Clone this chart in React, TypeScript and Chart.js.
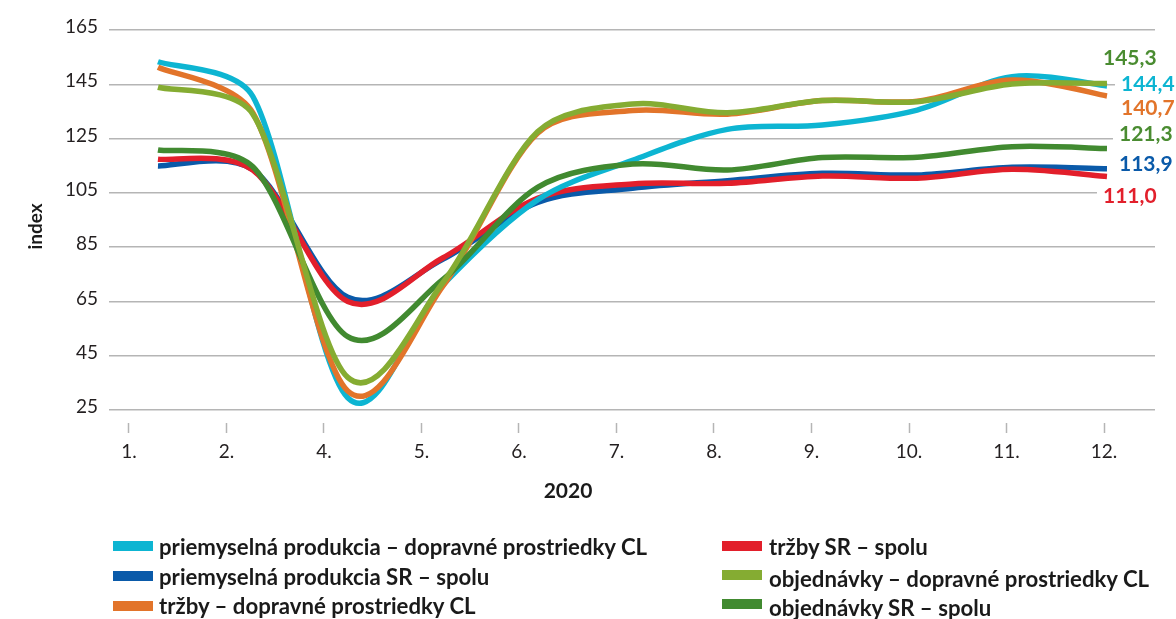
import React, { useEffect, useRef } from "react";
import { Chart, registerables } from "chart.js";

Chart.register(...registerables);

// ---- data ----
const xLabels = ["1.", "2.", "4.", "5.", "6.", "7.", "8.", "9.", "10.", "11.", "12."];
const yTicks = [25, 45, 65, 85, 105, 125, 145, 165];

const prodTransport = [153.3, 140.5, 29.5, 71.0, 102.4, 117.0, 128.4, 130.0, 135.5, 147.8, 144.4];
const prodTotal = [114.9, 113.6, 66.5, 80.5, 101.5, 106.7, 109.5, 112.2, 111.6, 114.4, 113.9];
const salesTransport = [151.3, 134.5, 32.0, 70.5, 127.0, 135.3, 134.0, 139.0, 138.8, 146.6, 140.7];
const salesTotal = [117.4, 113.4, 65.0, 81.0, 103.0, 108.3, 108.5, 111.2, 110.4, 113.7, 111.0];
const ordersTransport = [143.9, 134.0, 37.0, 71.8, 127.5, 137.7, 134.5, 139.0, 138.6, 145.1, 145.3];
const ordersTotal = [120.8, 114.6, 52.0, 73.0, 107.0, 115.6, 113.4, 118.0, 118.1, 122.0, 121.3];

const seriesNames = [
  "priemyselná produkcia – dopravné prostriedky CL",
  "priemyselná produkcia SR – spolu",
  "tržby – dopravné prostriedky CL",
  "tržby SR – spolu",
  "objednávky – dopravné prostriedky CL",
  "objednávky SR – spolu",
];
const seriesValues = [prodTransport, prodTotal, salesTransport, salesTotal, ordersTransport, ordersTotal];
const xTitle = "2020";
const yTitle = "index";

// ---- styles ----
const seriesColors = ["#0db5d2", "#0a5aa9", "#e2742a", "#e21f2b", "#85ac32", "#418a30"];
const labelColors = ["#0db5d2", "#0a5aa9", "#e2742a", "#e21f2b", "#4a8c31", "#4a8c31"];
const drawOrder = [3, 5, 2, 4, 0, 1];
const labelDx = [14, 12, 14, -4, -4, 12];
const labelDy = [-2, -4, 12, 20, -25, -14];

const FONT = "Lato, 'Open Sans', sans-serif";

const fmt = (v: number) => v.toFixed(1).replace(".", ",");

// Spreadsheet-style smoothing: Catmull-Rom tangents, control arms capped
// to a fraction of the adjacent segment length.
const SMOOTH = 1 / 6;
const ARM_CAP = 1 / 3;
const smoothLines = {
  id: "smoothLines",
  beforeDatasetDraw(chart: any, args: any) {
    const meta = args.meta;
    const pts = meta.data || [];
    const n = pts.length;
    for (let i = 0; i < n; i++) {
      const p = pts[i];
      const prev = pts[Math.max(i - 1, 0)];
      const next = pts[Math.min(i + 1, n - 1)];
      const tx = (next.x - prev.x) * SMOOTH;
      const ty = (next.y - prev.y) * SMOOTH;
      const tl = Math.hypot(tx, ty) || 1;
      const dPrev = Math.hypot(p.x - prev.x, p.y - prev.y);
      const dNext = Math.hypot(next.x - p.x, next.y - p.y);
      const sPrev = Math.min(1, (ARM_CAP * dPrev) / tl);
      const sNext = Math.min(1, (ARM_CAP * dNext) / tl);
      p.cp1x = p.x - tx * sPrev;
      p.cp1y = p.y - ty * sPrev;
      p.cp2x = p.x + tx * sNext;
      p.cp2y = p.y + ty * sNext;
    }
    if (meta.dataset) {
      meta.dataset._pointsUpdated = true;
      meta.dataset._path = undefined;
    }
  },
};

const endLabels = {
  id: "endLabels",
  afterDatasetsDraw(chart: any) {
    const ctx = chart.ctx;
    ctx.save();
    ctx.font = `bold 21px ${FONT}`;
    ctx.textBaseline = "middle";
    ctx.textAlign = "left";
    chart.data.datasets.forEach((ds: any, i: number) => {
      const meta = chart.getDatasetMeta(i);
      const pt = meta.data[meta.data.length - 1];
      const vals = seriesValues[i];
      const text = fmt(vals[vals.length - 1]);
      const x = pt.x + labelDx[i];
      const y = pt.y + labelDy[i];
      const w = ctx.measureText(text).width;
      ctx.fillStyle = "#ffffff";
      ctx.fillRect(x - 6, y - 11, w + 8, 22);
      ctx.fillStyle = labelColors[i];
      ctx.fillText(text, x, y);
    });
    ctx.restore();
  },
};

const legendRows = [
  { col: 0, swatch: 546, text: 547 },
  { col: 0, swatch: 576, text: 577 },
  { col: 0, swatch: 606, text: 606 },
  { col: 1, swatch: 546, text: 547 },
  { col: 1, swatch: 575, text: 579 },
  { col: 1, swatch: 604, text: 608 },
];
const legendCols = [
  { swatch: 113, text: 159 },
  { swatch: 722, text: 769 },
];

export default function App() {
  const ref = useRef<HTMLCanvasElement | null>(null);

  useEffect(() => {
    if (!ref.current) return;
    const chart = new Chart(ref.current, {
      type: "line",
      data: {
        datasets: seriesValues.map((vals, i) => ({
          label: seriesNames[i],
          data: vals.map((v, k) => ({ x: k, y: v })),
          borderColor: seriesColors[i],
          backgroundColor: seriesColors[i],
          borderWidth: 5.5,
          pointRadius: 0,
          tension: 0.35,
          fill: false,
          order: drawOrder[i],
          xAxisID: "xd",
          yAxisID: "y",
        })),
      },
      options: {
        animation: false,
        responsive: false,
        devicePixelRatio: 1,
        layout: { padding: { left: 0, right: 21, top: 30, bottom: 118 } },
        plugins: {
          legend: { display: false },
          tooltip: { enabled: false },
        },
        scales: {
          x: {
            type: "linear",
            position: "bottom",
            min: -0.205,
            max: 10.523,
            afterBuildTicks: (s: any) => {
              s.ticks = xLabels.map((_, i) => ({ value: i }));
            },
            afterFit: (s: any) => {
              s.height = 78;
            },
            ticks: {
              callback: (v: any) => xLabels[v as number],
              padding: 7,
              autoSkip: false,
              maxRotation: 0,
              color: "#231f20",
              font: { family: FONT, size: 19 },
            },
            grid: {
              drawOnChartArea: false,
              drawTicks: true,
              tickLength: 10,
              tickColor: "#b5b5b5",
              tickWidth: 1.5,
            },
            border: { display: false },
          },
          xd: {
            type: "linear",
            display: false,
            min: -0.516,
            max: 10.506,
          },
          y: {
            type: "linear",
            position: "left",
            min: 20.2,
            max: 165,
            afterBuildTicks: (s: any) => {
              s.ticks = yTicks.map((v) => ({ value: v }));
            },
            afterFit: (s: any) => {
              s.width = 109;
            },
            ticks: {
              padding: 11,
              labelOffset: -3,
              color: "#231f20",
              font: { family: FONT, size: 19 },
            },
            grid: {
              color: "#b5b5b5",
              lineWidth: 1.5,
              drawTicks: false,
            },
            border: { display: false },
            title: {
              display: true,
              text: yTitle,
              color: "#1a1a1a",
              font: { family: FONT, size: 19, weight: "bold" },
              padding: { top: 24, bottom: 0 },
            },
          },
        },
      },
      plugins: [smoothLines, endLabels],
    } as any);
    return () => chart.destroy();
  }, []);

  return (
    <div
      style={{
        position: "absolute",
        left: 0,
        top: 0,
        width: 1176,
        height: 619,
        background: "#ffffff",
        overflow: "hidden",
        fontFamily: FONT,
      }}
    >
      <canvas ref={ref} width={1176} height={619} style={{ position: "absolute", left: 0, top: 0 }} />
      <div
        style={{
          position: "absolute",
          left: 468,
          width: 200,
          top: 478,
          height: 24,
          lineHeight: "24px",
          textAlign: "center",
          fontSize: 21,
          fontWeight: 700,
          color: "#1a1a1a",
        }}
      >
        {xTitle}
      </div>
      {seriesNames.map((name, i) => {
        const row = legendRows[i];
        const col = legendCols[row.col];
        return (
          <React.Fragment key={name}>
            <div
              style={{
                position: "absolute",
                left: col.swatch,
                top: row.swatch - 5,
                width: 40,
                height: 10,
                background: seriesColors[i],
              }}
            />
            <div
              style={{
                position: "absolute",
                left: col.text,
                top: row.text - 13,
                height: 26,
                lineHeight: "26px",
                fontSize: 22.2,
                fontWeight: 700,
                color: "#1a1a1a",
                whiteSpace: "nowrap",
              }}
            >
              {name}
            </div>
          </React.Fragment>
        );
      })}
    </div>
  );
}
